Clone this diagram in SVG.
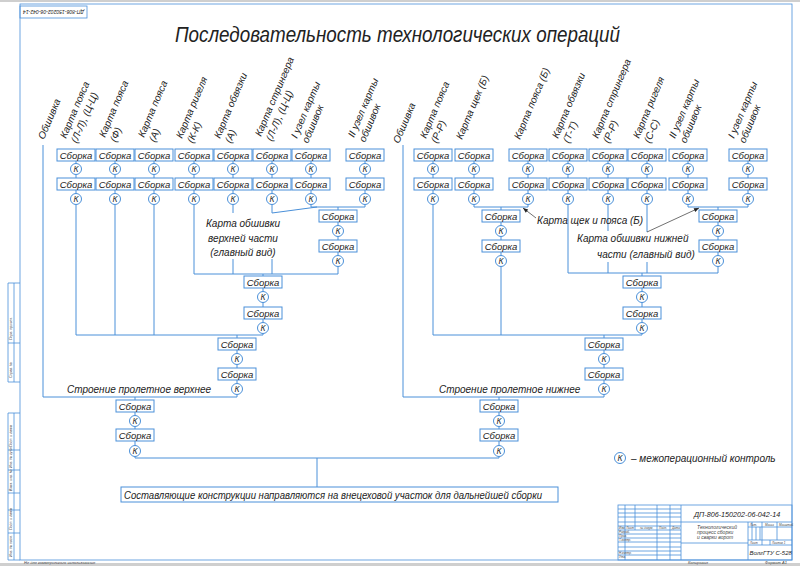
<svg xmlns="http://www.w3.org/2000/svg" width="800" height="566" viewBox="0 0 800 566">
<defs>
<style>
.b{fill:#fff;stroke:#4a90d9;stroke-width:1}
.c{fill:none;stroke:#4a90d9;stroke-width:1}
.f{fill:none;stroke:#4a90d9;stroke-width:0.8}
.t{font-family:"Liberation Sans",Arial,sans-serif;font-style:italic;font-size:9.5px;fill:#222;text-anchor:middle}
.kt{font-family:"Liberation Sans",Arial,sans-serif;font-style:italic;font-size:8.5px;fill:#222;text-anchor:middle}
.l{font-family:"Liberation Sans",Arial,sans-serif;font-style:italic;font-size:10px;fill:#222}
.s{font-family:"Liberation Sans",Arial,sans-serif;font-style:italic;font-size:4px;fill:#444}
</style>
<marker id="ar" viewBox="0 0 10 10" refX="10" refY="5" markerWidth="7" markerHeight="5" orient="auto" markerUnits="userSpaceOnUse"><path d="M0,1 L10,5 L0,9 z" fill="#222"/></marker>
<symbol id="sb" overflow="visible"><rect class="b" x="-19" y="0" width="38" height="12"/><text class="t" x="0" y="9.5">Сборка</text></symbol>
<symbol id="kk" overflow="visible"><circle class="b" cx="0" cy="0" r="5.5"/><text class="kt" x="0" y="3">К</text></symbol>
</defs>
<rect width="800" height="566" fill="#fff"/>
<line x1="0" y1="1" x2="800" y2="1" stroke="#cfcfcf" stroke-width="2"/>
<line x1="0" y1="564.5" x2="800" y2="564.5" stroke="#cfcfcf" stroke-width="3"/>

<g id="frame">
<rect class="f" x="20" y="4" width="772" height="556"/>
<rect class="f" x="20" y="6" width="67" height="12"/>
<text class="l" style="font-size:5.5px" transform="translate(84,10) rotate(180)" textLength="61" lengthAdjust="spacingAndGlyphs">ДП-806-150202-06-042-14</text>
<path class="f" d="M8,283 V382 M14,283 V382 M8,283 H20 M8,343 H20 M8,382 H20 M8,413 V560 M14,413 V560 M8,413 H20 M8,450 H20 M8,470 H20 M8,493 H20 M8,510 H20 M8,533 H20 M8,560 H20"/>
<g class="s" style="font-size:3.5px">
<text transform="translate(12,340) rotate(-90)">Перв. примен.</text>
<text transform="translate(12,378) rotate(-90)">Справ. №</text>
<text transform="translate(12,447) rotate(-90)">Подп. и дата</text>
<text transform="translate(12,468) rotate(-90)">Инв. № дубл.</text>
<text transform="translate(12,491) rotate(-90)">Взам. инв. №</text>
<text transform="translate(12,530) rotate(-90)">Подп. и дата</text>
<text transform="translate(12,557) rotate(-90)">Инв. № подл.</text>
</g>
<text class="s" x="24" y="564">Не для коммерческого использования</text>
<text class="s" x="688" y="564">Копировал</text>
<text class="s" x="765" y="564">Формат  А1</text>
</g>

<g id="title-block">
<rect class="f" x="618" y="505" width="174" height="55"/>
<path class="f" d="M625,505 V560 M635,505 V530 M657,505 V560 M670,505 V560 M681,505 V560 M618,509 H681 M618,513 H681 M618,517 H681 M618,522 H792 M618,526 H681 M618,530 H681 M618,534 H681 M618,538 H681 M618,542 H681 M618,547 H681 M618,551 H681 M618,555 H681 M748,522 V560 M681,543 H748 M748,527 H792 M748,540 H792 M748,545 H792 M752,522 V540 M756,527 V540 M760,527 V540 M762,522 V545 M777,522 V540 M770,540 V545"/>
<text class="l" x="694" y="517" style="font-size:7.2px">ДП-806-150202-06-042-14</text>
<g class="s" style="font-size:3px">
<text x="619" y="529">Изм. Лист</text><text x="640" y="529">№ докум.</text><text x="659" y="529">Подп.</text><text x="672" y="529">Дата</text>
<text x="619" y="533">Разраб.</text><text x="619" y="537">Пров.</text><text x="619" y="541">Т.контр.</text>
<text x="619" y="554">Н.контр.</text><text x="619" y="558">Утв.</text>
<text x="750" y="526">Лит.</text><text x="765" y="526">Масса</text><text x="779" y="526">Масштаб</text>
<text x="750" y="544">Лист</text><text x="772" y="544">Листов   1</text>
</g>
<g class="s" style="font-size:5px">
<text x="697" y="529">Технологический</text><text x="697" y="534">процесс сборки</text><text x="697" y="539">и сварки ворот</text>
</g>
<text class="l" x="749.5" y="555" style="font-size:6px">ВолгГТУ С-528</text>
</g>

<text id="title" class="l" x="175" y="42" style="font-size:22px" textLength="445" lengthAdjust="spacingAndGlyphs">Последовательность технологических операций</text>

<g id="labels" class="l">
<text transform="translate(44,140) rotate(-67)">Обшивка</text>
<text transform="translate(66,139) rotate(-67)">Карта пояса<tspan x="0" dy="12">(Л-Л), (Ц-Ц)</tspan></text>
<text transform="translate(105,138) rotate(-67)">Карта пояса<tspan x="0" dy="12">(Ф)</tspan></text>
<text transform="translate(144,138) rotate(-67)">Карта пояса<tspan x="0" dy="12">(А)</tspan></text>
<text transform="translate(182,139) rotate(-67)">Карта ригеля<tspan x="0" dy="12">(К-К)</tspan></text>
<text transform="translate(220,139) rotate(-67)">Карта обвязки<tspan x="0" dy="12">(А)</tspan></text>
<text transform="translate(261,137) rotate(-67)">Карта стрингера<tspan x="0" dy="12">(Л-Л), (Ц-Ц)</tspan></text>
<text transform="translate(297,139) rotate(-67)">I узел карты<tspan x="0" dy="12">обшивок</tspan></text>
<text transform="translate(354,138) rotate(-67)">II узел карты<tspan x="0" dy="12">обшивок</tspan></text>
<text transform="translate(399,144) rotate(-67)">Обшивка</text>
<text transform="translate(426,139) rotate(-67)">Карта пояса<tspan x="0" dy="12">(Р-Р)</tspan></text>
<text transform="translate(462,140) rotate(-67)">Карта щек (Б)</text>
<text transform="translate(520,140) rotate(-67)">Карта пояса (Б)</text>
<text transform="translate(558,139) rotate(-67)">Карта обвязки<tspan x="0" dy="12">(Т-Т)</tspan></text>
<text transform="translate(598,139) rotate(-67)">Карта стрингера<tspan x="0" dy="12">(Р-Р)</tspan></text>
<text transform="translate(639,139) rotate(-67)">Карта ригеля<tspan x="0" dy="12">(С-С)</tspan></text>
<text transform="translate(675,139) rotate(-67)">II узел карты<tspan x="0" dy="12">обшивок</tspan></text>
<text transform="translate(734,139) rotate(-67)">I узел карты<tspan x="0" dy="12">обшивок</tspan></text>
</g>

<g id="connectors">
<path class="c" d="M43,145 V397 H237 M76,155 V335 M115,155 V335 M154,155 V335 M194,155 V274 M233,155 V213 M233,259 V274 M272,155 V213 M272,259 V274 M311,155 V207 M365,155 V207 M311,207 H365 M338,207 V274 M194,274 H338 M263,274 V335 M76,335 H263 M237,335 V397 M135,397 V458 H499 M317,458 V487"/>
<path class="c" d="M272,213 L317,207"/>
<path class="c" d="M403,145 V397 H604 M433,155 V335 M474,155 V207 H528 M528,155 V207 M501,207 V335 M568,155 V273 M608,155 V231 M608,262 V273 M647,155 V232 M647,262 V273 M688,155 V207 M748,155 V207 M688,207 H748 M718,207 V273 M568,273 H718 M642,273 V335 M433,335 H642 M604,335 V397 M499,397 V458"/>
<path class="c" style="stroke:#333;stroke-width:0.7" d="M536,218 L523,208" marker-end="url(#ar)"/>
<path class="c" style="stroke:#333;stroke-width:0.7" d="M647,232 L699,208" marker-end="url(#ar)"/>
</g>

<g id="connector-labels" class="l">
<text x="243" y="227" text-anchor="middle">Карта обшивки</text>
<text x="243" y="242" text-anchor="middle">верхней части</text>
<text x="243" y="256" text-anchor="middle">(главный вид)</text>
<text x="537" y="224">Карта щек и пояса (Б)</text>
<text x="577" y="242">Карта  обшивки нижней</text>
<text x="597" y="258">части (главный вид)</text>
<text x="67" y="393">Строение пролетное верхнее</text>
<text x="439" y="393">Строение пролетное нижнее</text>
</g>

<g id="nodes">
<g id="L1"><use href="#sb" x="76" y="149"/><use href="#kk" x="76" y="169"/><use href="#sb" x="76" y="178"/><use href="#kk" x="76" y="199"/></g>
<g id="L2"><use href="#sb" x="115" y="149"/><use href="#kk" x="115" y="169"/><use href="#sb" x="115" y="178"/><use href="#kk" x="115" y="199"/></g>
<g id="L3"><use href="#sb" x="154" y="149"/><use href="#kk" x="154" y="169"/><use href="#sb" x="154" y="178"/><use href="#kk" x="154" y="199"/></g>
<g id="L4"><use href="#sb" x="194" y="149"/><use href="#kk" x="194" y="169"/><use href="#sb" x="194" y="178"/><use href="#kk" x="194" y="199"/></g>
<g id="L5"><use href="#sb" x="233" y="149"/><use href="#kk" x="233" y="169"/><use href="#sb" x="233" y="178"/><use href="#kk" x="233" y="199"/></g>
<g id="L6"><use href="#sb" x="272" y="149"/><use href="#kk" x="272" y="169"/><use href="#sb" x="272" y="178"/><use href="#kk" x="272" y="199"/></g>
<g id="L7"><use href="#sb" x="311" y="149"/><use href="#kk" x="311" y="169"/><use href="#sb" x="311" y="178"/><use href="#kk" x="311" y="199"/></g>
<g id="L8"><use href="#sb" x="365" y="149"/><use href="#kk" x="365" y="169"/><use href="#sb" x="365" y="178"/><use href="#kk" x="365" y="199"/></g>
<g id="LA"><use href="#sb" x="338" y="210"/><use href="#kk" x="338" y="231"/><use href="#sb" x="338" y="240"/><use href="#kk" x="338" y="261"/></g>
<g id="LB"><use href="#sb" x="263" y="276"/><use href="#kk" x="263" y="297"/><use href="#sb" x="263" y="307"/><use href="#kk" x="263" y="328"/></g>
<g id="LC"><use href="#sb" x="237" y="338"/><use href="#kk" x="237" y="359"/><use href="#sb" x="237" y="368"/><use href="#kk" x="237" y="389"/></g>
<g id="LD"><use href="#sb" x="135" y="400"/><use href="#kk" x="135" y="421"/><use href="#sb" x="135" y="429"/><use href="#kk" x="135" y="451"/></g>

<g id="R1"><use href="#sb" x="433" y="149"/><use href="#kk" x="433" y="169"/><use href="#sb" x="433" y="178"/><use href="#kk" x="433" y="199"/></g>
<g id="R2"><use href="#sb" x="474" y="149"/><use href="#kk" x="474" y="169"/><use href="#sb" x="474" y="178"/><use href="#kk" x="474" y="199"/></g>
<g id="R3"><use href="#sb" x="528" y="149"/><use href="#kk" x="528" y="169"/><use href="#sb" x="528" y="178"/><use href="#kk" x="528" y="199"/></g>
<g id="R4"><use href="#sb" x="568" y="149"/><use href="#kk" x="568" y="169"/><use href="#sb" x="568" y="178"/><use href="#kk" x="568" y="199"/></g>
<g id="R5"><use href="#sb" x="608" y="149"/><use href="#kk" x="608" y="169"/><use href="#sb" x="608" y="178"/><use href="#kk" x="608" y="199"/></g>
<g id="R6"><use href="#sb" x="647" y="149"/><use href="#kk" x="647" y="169"/><use href="#sb" x="647" y="178"/><use href="#kk" x="647" y="199"/></g>
<g id="R7"><use href="#sb" x="688" y="149"/><use href="#kk" x="688" y="169"/><use href="#sb" x="688" y="178"/><use href="#kk" x="688" y="199"/></g>
<g id="R8"><use href="#sb" x="748" y="149"/><use href="#kk" x="748" y="169"/><use href="#sb" x="748" y="178"/><use href="#kk" x="748" y="199"/></g>
<g id="RE"><use href="#sb" x="501" y="210"/><use href="#kk" x="501" y="231"/><use href="#sb" x="501" y="240"/><use href="#kk" x="501" y="261"/></g>
<g id="RF"><use href="#sb" x="718" y="210"/><use href="#kk" x="718" y="231"/><use href="#sb" x="718" y="240"/><use href="#kk" x="718" y="261"/></g>
<g id="RG"><use href="#sb" x="642" y="276"/><use href="#kk" x="642" y="297"/><use href="#sb" x="642" y="307"/><use href="#kk" x="642" y="328"/></g>
<g id="RH"><use href="#sb" x="604" y="338"/><use href="#kk" x="604" y="359"/><use href="#sb" x="604" y="368"/><use href="#kk" x="604" y="389"/></g>
<g id="RI"><use href="#sb" x="499" y="400"/><use href="#kk" x="499" y="421"/><use href="#sb" x="499" y="429"/><use href="#kk" x="499" y="451"/></g>

<g id="final"><rect class="b" x="121" y="487" width="437" height="15"/><text class="l" x="124" y="498.5" textLength="418" lengthAdjust="spacingAndGlyphs">Составляющие конструкции направляются на внецеховой участок для дальнейшей сборки</text></g>
<g id="legend"><use href="#kk" x="620" y="458"/><text class="l" x="631" y="462">– межоперационный контроль</text></g>
</g>
</svg>
